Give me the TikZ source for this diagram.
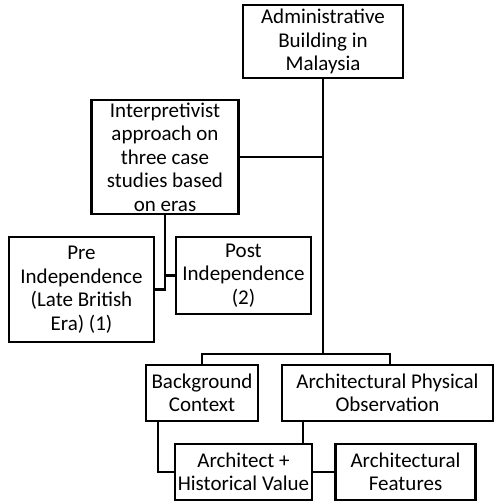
\documentclass[tikz,border=0pt]{standalone}
\usepackage{fontspec}
\setmainfont{Carlito}
\begin{document}
\begin{tikzpicture}[x=1pt,y=-1pt,
  box/.style={draw, line width=2.5pt, rectangle, inner sep=0pt, align=center,
    font=\fontsize{21}{23.5}\selectfont},
  conn/.style={line width=2.2pt}]
\useasboundingbox (0,0) rectangle (493,501);
\node[box, minimum width=160, minimum height=73] (top) at (323,41.5) {Administrative\\Building in\\Malaysia};
\node[box, minimum width=147, minimum height=114] (interp) at (165,157) {Interpretivist\\approach on\\three case\\studies based\\on eras};
\node[box, minimum width=145, minimum height=105] (pre) at (81.5,289.5) {Pre\\Independence\\(Late British\\Era) (1)};
\node[box, minimum width=135, minimum height=77] (post) at (243.5,275.5) {Post\\Independence\\(2)};
\node[box, minimum width=112, minimum height=56] (bg) at (202,393) {Background\\Context};
\node[box, minimum width=211, minimum height=56] (apo) at (387.5,393) {Architectural Physical\\Observation};
\node[box, minimum width=137, minimum height=56] (arch) at (243.5,472) {Architect +\\Historical Value};
\node[box, minimum width=140, minimum height=56] (feat) at (405.5,472) {Architectural\\Features};
\coordinate (j) at (322,354);
\draw[conn] (top.south) -- (top.south |- j);
\draw[conn] (interp.east) -- (interp.east -| top.south);
\draw[conn] (bg.north) |- (j) -| ([xshift=2.5]apo.north);
\draw[conn] (interp.south) |- (pre.east);
\draw[conn] (post.west) -- (post.west -| interp.south);
\draw[conn] ([xshift=-44]bg.south) |- (arch.west);
\draw[conn] ([xshift=-84.5]apo.south) -- ([xshift=-84.5]apo.south |- arch.north);
\draw[conn] (arch.east) -- (feat.west);
\end{tikzpicture}
\end{document}
